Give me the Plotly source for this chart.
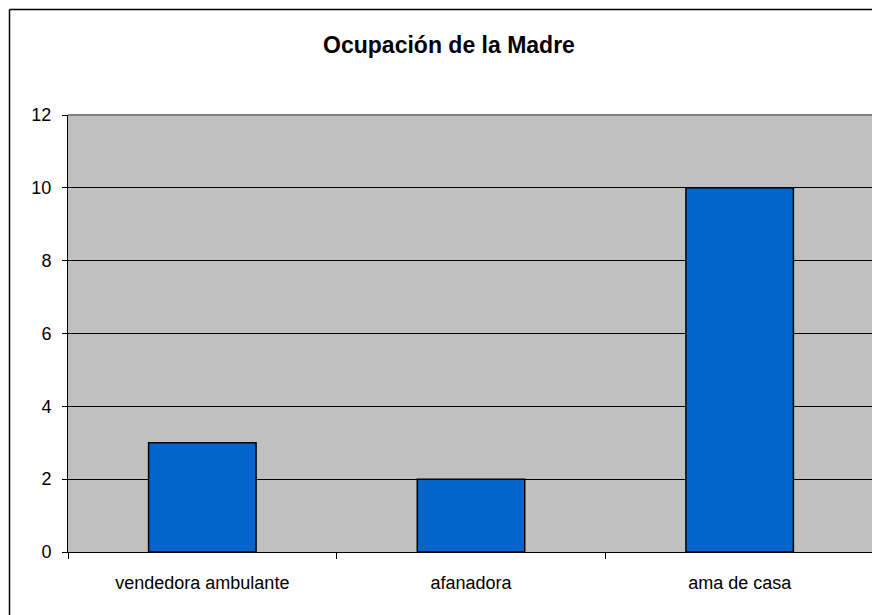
import plotly.graph_objects as go

categories = ["vendedora ambulante", "afanadora", "ama de casa"]
values = [3, 2, 10]
y_ticks = [0, 2, 4, 6, 8, 10, 12]
title_text = "Ocupación de la Madre"

# the page body has an 8px margin; the figure is sized so the plot lands where the reference has it
OFF = 8
W, H = 880 - OFF, 615 - OFF
L, R, T, B = 68 - OFF, 6, 115 - OFF, 63
pw, ph = W - L - R, H - T - B

fig = go.Figure()
fig.add_trace(go.Bar(
    x=categories, y=values,
    marker=dict(color="#0066CC", line=dict(color="#000000", width=1.5)),
    hoverinfo="x+y",
))

def px_x(p):
    return (p - OFF - L) / pw

def px_y(p):
    return (H - B - (p - OFF)) / ph

fig.update_layout(
    width=W, height=H,
    margin=dict(l=L, r=R, t=T, b=B, pad=0),
    paper_bgcolor="#FFFFFF",
    plot_bgcolor="#C0C0C0",
    bargap=0.60,
    showlegend=False,
    font=dict(family="Liberation Sans, Arial, sans-serif", size=18, color="#000000"),
    title=dict(
        text="<b>" + title_text + "</b>",
        x=(449 - OFF) / W, xref="container", xanchor="center",
        y=1 - (45 - OFF) / H, yref="container", yanchor="middle",
        font=dict(family="Liberation Sans, Arial, sans-serif", size=23, color="#000000"),
    ),
    xaxis=dict(
        type="category",
        showline=True, linecolor="#000000", linewidth=1,
        ticks="outside", tickson="boundaries", ticklen=6, tickcolor="#000000",
        showgrid=False, zeroline=False,
        ticklabelstandoff=14,
        range=[-0.5, 2.5],
    ),
    yaxis=dict(
        range=[0, 12], tickvals=y_ticks, ticktext=[str(v) for v in y_ticks],
        showline=True, linecolor="#000000", linewidth=1,
        ticks="outside", ticklen=5, tickcolor="#000000",
        showgrid=True, gridcolor="#000000", gridwidth=1,
        zeroline=False,
        ticklabelstandoff=7,
    ),
    shapes=[
        dict(type="line", xref="paper", yref="paper", x0=0, x1=1, y0=1, y1=1,
             line=dict(color="#808080", width=2), layer="above"),
        dict(type="line", xref="paper", yref="paper", x0=1, x1=1, y0=0, y1=1,
             line=dict(color="#808080", width=2), layer="above"),
        # outer chart border: only its left and top edges fall inside the view
        dict(type="line", xref="paper", yref="paper",
             x0=px_x(9.5), x1=px_x(9.5), y0=px_y(700), y1=px_y(9.5),
             line=dict(color="#000000", width=1.5), layer="above"),
        dict(type="line", xref="paper", yref="paper",
             x0=px_x(9.5), x1=px_x(1000), y0=px_y(9.5), y1=px_y(9.5),
             line=dict(color="#000000", width=1.5), layer="above"),
    ],
)

fig.write_html(
    "out.html",
    post_script="document.documentElement.style.overflow='hidden';document.body.style.overflow='hidden';",
)
